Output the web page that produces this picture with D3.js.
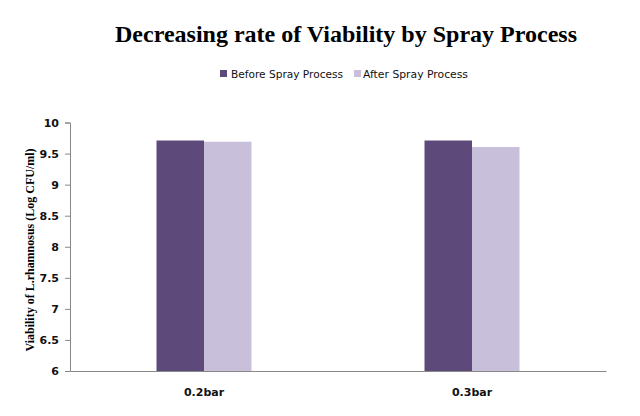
<!DOCTYPE html>
<html><head><meta charset="utf-8">
<script src="https://cdn.jsdelivr.net/npm/d3@7"></script>
<style>body{margin:0;background:#fff}svg{display:block}</style>
</head><body>
<svg id="c" width="640" height="416"></svg>
<script>
const categories = ["0.2bar", "0.3bar"];
const seriesNames = ["Before Spray Process", "After Spray Process"];
const beforeValues = [9.71, 9.71];
const afterValues = [9.69, 9.605];
const yTicks = [6, 6.5, 7, 7.5, 8, 8.5, 9, 9.5, 10];
const colors = ["#5E4A7A", "#C8BFDA"];

const svg = d3.select("#c");
const L = 70, R = 606, T = 122.5, B = 371;
const x = d3.scaleBand().domain(categories).range([L, R]);
const xs = d3.scaleBand().domain(seriesNames).range([0, 95]);
const y = d3.scaleLinear().domain([6, 10]).range([B, T]);

// title
svg.append("text").attr("x", 346).attr("y", 42).attr("text-anchor", "middle")
  .attr("font-family", "Liberation Serif, serif").attr("font-weight", "bold")
  .attr("font-size", 24).attr("textLength", 462).attr("lengthAdjust", "spacingAndGlyphs")
  .text("Decreasing rate of Viability by Spray Process");

// legend
const leg = [{x: 220, tx: 231, w: 112}, {x: 354, tx: 363, w: 105}];
seriesNames.forEach((s, i) => {
  svg.append("rect").attr("x", leg[i].x).attr("y", 70).attr("width", 7).attr("height", 7).attr("fill", colors[i]);
  svg.append("text").attr("x", leg[i].tx).attr("y", 78)
    .attr("font-family", "DejaVu Sans, sans-serif").attr("font-size", 11)
    .attr("textLength", leg[i].w).attr("lengthAdjust", "spacingAndGlyphs").attr("fill", "#111")
    .text(s);
});

// bars
const data = categories.map((c, i) => ({c, vals: [beforeValues[i], afterValues[i]]}));
const g = svg.append("g");
data.forEach(d => {
  d.vals.forEach((v, j) => {
    g.append("rect")
      .attr("x", x(d.c) + x.bandwidth() / 2 - 47.5 + xs(seriesNames[j]))
      .attr("y", y(v)).attr("width", xs.bandwidth()).attr("height", B - y(v))
      .attr("fill", colors[j]);
  });
});

// y axis
const ya = svg.append("g").attr("transform", `translate(${L},0)`)
  .call(d3.axisLeft(y).tickValues(yTicks).tickSize(5).tickPadding(6).tickFormat(d3.format("")));
ya.select(".domain").attr("stroke", "#888");
ya.selectAll(".tick line").attr("stroke", "#888");
ya.selectAll(".tick text").attr("font-family", "DejaVu Sans, sans-serif").attr("font-weight", "bold")
  .attr("font-size", 11).attr("fill", "#111");

// x axis
const xa = svg.append("g").attr("transform", `translate(0,${B})`)
  .call(d3.axisBottom(x).tickSize(0).tickPadding(17));
xa.select(".domain").attr("stroke", "#888");
xa.selectAll(".tick text").attr("font-family", "DejaVu Sans, sans-serif").attr("font-weight", "bold")
  .attr("font-size", 11).attr("fill", "#111");

// y title
svg.append("text").attr("transform", "translate(34,250) rotate(-90)").attr("text-anchor", "middle")
  .attr("font-family", "Liberation Serif, serif").attr("font-weight", "bold").attr("font-size", 12)
  .attr("textLength", 203).attr("lengthAdjust", "spacingAndGlyphs")
  .text("Viability of L.rhamnosus (Log CFU/ml)");
</script>
</body></html>
